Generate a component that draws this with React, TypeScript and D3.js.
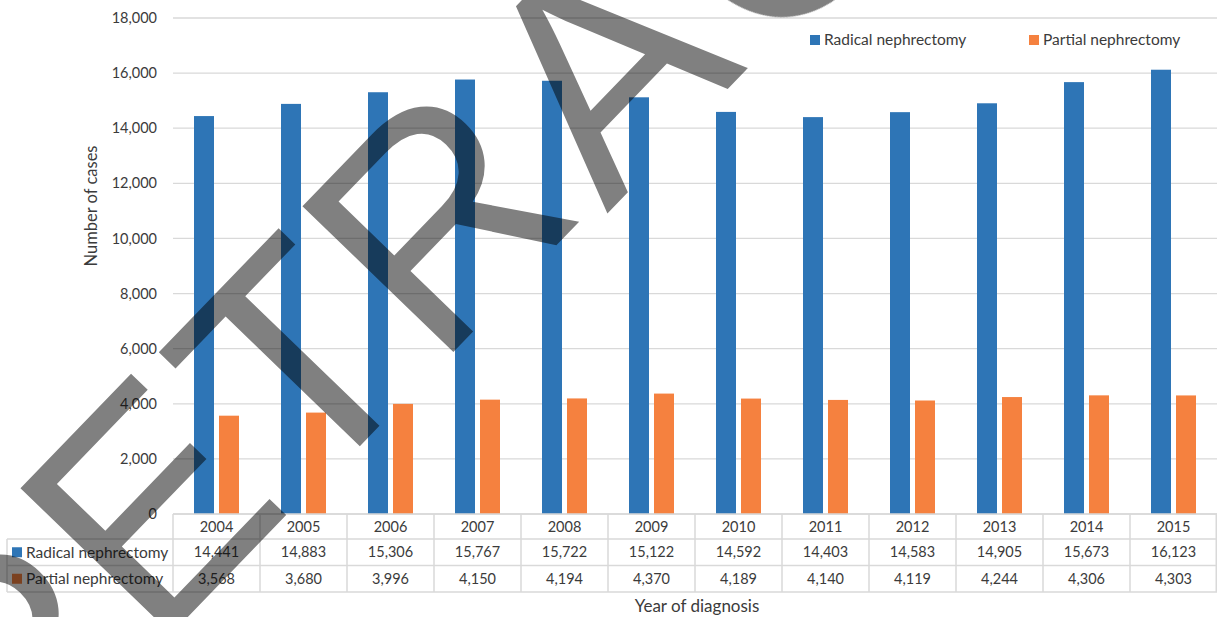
import React, { useRef, useEffect } from 'react';
import * as d3 from 'd3';

const years = ['2004', '2005', '2006', '2007', '2008', '2009', '2010', '2011', '2012', '2013', '2014', '2015'];
const radical = [14441, 14883, 15306, 15767, 15722, 15122, 14592, 14403, 14583, 14905, 15673, 16123];
const partial = [3568, 3680, 3996, 4150, 4194, 4370, 4189, 4140, 4119, 4244, 4306, 4303];
const seriesNames = ['Radical nephrectomy', 'Partial nephrectomy'];
const seriesColors = ['#2E75B6', '#F5813F'];
const yTicks = [0, 2000, 4000, 6000, 8000, 10000, 12000, 14000, 16000, 18000];

// stamp letters over the chart: char, baseline-left x, y
const stamp: [string, number, number][] = [
  ['R', 10, 818],
  ['E', 154, 652],
  ['T', 305, 503],
  ['R', 436, 370],
  ['A', 607, 214],
  ['C', 770, 66],
];

const FONT = 'Lato, "Open Sans", sans-serif';
const TEXT = '#3b3b3b';
const GRID = '#d9d9d9';

export default function App() {
  const svgRef = useRef<SVGSVGElement>(null);

  useEffect(() => {
    const W = 1217;
    const H = 617;
    const svg = d3.select(svgRef.current);
    svg.selectAll('*').remove();
    svg.attr('width', W).attr('height', H);

    svg.append('rect').attr('width', W).attr('height', H).attr('fill', '#fff');

    const left = 173;
    const right = 1217;
    const top = 18;
    const bottom = 514;

    const x0 = d3.scaleBand().domain(years).range([left, right]);
    const x1 = d3.scaleBand().domain(seriesNames).range([0, x0.bandwidth()])
      .paddingInner(0.2).paddingOuter(0.84);
    const y = d3.scaleLinear().domain([0, 18000]).range([bottom, top]);

    // grid
    svg.append('g')
      .selectAll('line')
      .data(yTicks)
      .enter().append('line')
      .attr('x1', left).attr('x2', right)
      .attr('y1', d => y(d)).attr('y2', d => y(d))
      .attr('stroke', GRID).attr('stroke-width', 1.3);

    // y tick labels
    svg.append('g')
      .selectAll('text')
      .data(yTicks)
      .enter().append('text')
      .attr('x', 157)
      .attr('y', d => y(d))
      .attr('dy', '0.35em')
      .attr('text-anchor', 'end')
      .style('font-family', FONT)
      .style('font-size', '14.5px')
      .style('fill', TEXT)
      .text(d => d3.format(',')(d));

    // bars
    const values = [radical, partial];
    const group = svg.append('g')
      .selectAll('g')
      .data(years)
      .enter().append('g')
      .attr('transform', d => `translate(${x0(d)},0)`);

    group.selectAll('rect')
      .data((d, i) => seriesNames.map((key, k) => ({ key, value: values[k][i], k })))
      .enter().append('rect')
      .attr('x', d => x1(d.key)!)
      .attr('y', d => y(d.value))
      .attr('width', x1.bandwidth())
      .attr('height', d => bottom - y(d.value))
      .attr('fill', d => seriesColors[d.k]);

    // data table
    const rowTop = 539;
    const rowH = 26.5;
    const tableLeft = 7;
    const table = svg.append('g');
    const hline = (yy: number, x1v: number) =>
      table.append('line').attr('x1', x1v).attr('x2', right).attr('y1', yy).attr('y2', yy)
        .attr('stroke', GRID).attr('stroke-width', 1.5);
    hline(bottom, left);
    hline(rowTop, tableLeft);
    hline(rowTop + rowH, tableLeft);
    hline(rowTop + 2 * rowH, tableLeft);
    table.append('line').attr('x1', tableLeft).attr('x2', tableLeft)
      .attr('y1', rowTop).attr('y2', rowTop + 2 * rowH)
      .attr('stroke', GRID).attr('stroke-width', 1.5);
    table.selectAll('line.v')
      .data([...years.map(d => x0(d)!), right - 0.75])
      .enter().append('line')
      .attr('class', 'v')
      .attr('x1', d => d).attr('x2', d => d)
      .attr('y1', bottom).attr('y2', rowTop + 2 * rowH)
      .attr('stroke', GRID).attr('stroke-width', 1.5);

    table.selectAll('text.year')
      .data(years)
      .enter().append('text')
      .attr('class', 'year')
      .attr('x', d => x0(d)! + x0.bandwidth() / 2)
      .attr('y', (bottom + rowTop) / 2)
      .attr('dy', '0.35em')
      .attr('text-anchor', 'middle')
      .style('font-family', FONT).style('font-size', '14.5px').style('fill', TEXT)
      .text(d => d);

    seriesNames.forEach((name, k) => {
      const cy = rowTop + rowH * k + rowH / 2;
      table.append('rect')
        .attr('x', 12).attr('y', cy - 5).attr('width', 10).attr('height', 10)
        .attr('fill', seriesColors[k]);
      table.append('text')
        .attr('x', 26).attr('y', cy).attr('dy', '0.35em')
        .style('font-family', FONT).style('font-size', '15.5px').style('fill', TEXT)
        .text(name);
      table.selectAll(`text.v${k}`)
        .data(values[k])
        .enter().append('text')
        .attr('class', `v${k}`)
        .attr('x', (d, i) => x0(years[i])! + x0.bandwidth() / 2)
        .attr('y', cy)
        .attr('dy', '0.35em')
        .attr('text-anchor', 'middle')
        .style('font-family', FONT).style('font-size', '14.5px').style('fill', TEXT)
        .text(d => d3.format(',')(d));
    });

    // legend
    const legendX = [810, 1029];
    seriesNames.forEach((name, k) => {
      svg.append('rect')
        .attr('x', legendX[k]).attr('y', 35).attr('width', 10).attr('height', 10)
        .attr('fill', seriesColors[k]);
      svg.append('text')
        .attr('x', legendX[k] + 14).attr('y', 40).attr('dy', '0.35em')
        .style('font-family', FONT).style('font-size', '15.5px').style('fill', TEXT)
        .text(name);
    });

    // axis titles
    svg.append('text')
      .attr('x', 697).attr('y', 606).attr('dy', '0.35em')
      .attr('text-anchor', 'middle')
      .style('font-family', FONT).style('font-size', '17px').style('fill', TEXT)
      .text('Year of diagnosis');
    svg.append('text')
      .attr('transform', 'translate(91,206) rotate(-90)')
      .attr('dy', '0.35em')
      .attr('text-anchor', 'middle')
      .style('font-family', FONT).style('font-size', '16.5px').style('fill', TEXT)
      .text('Number of cases');

    // retraction stamp
    const wm = svg.append('g').style('mix-blend-mode', 'multiply');
    wm.selectAll('text')
      .data(stamp)
      .enter().append('text')
      .attr('transform', d => `translate(${d[1]},${d[2]}) rotate(-46)`)
      .style('font-family', '"Liberation Sans", Arial, sans-serif')
      .style('font-size', '305px')
      .style('fill', '#808080')
      .text(d => d[0]);
  }, []);

  return (
    <div style={{ position: 'absolute', left: 0, top: 0 }}>
      <svg ref={svgRef} style={{ display: 'block' }} />
    </div>
  );
}
